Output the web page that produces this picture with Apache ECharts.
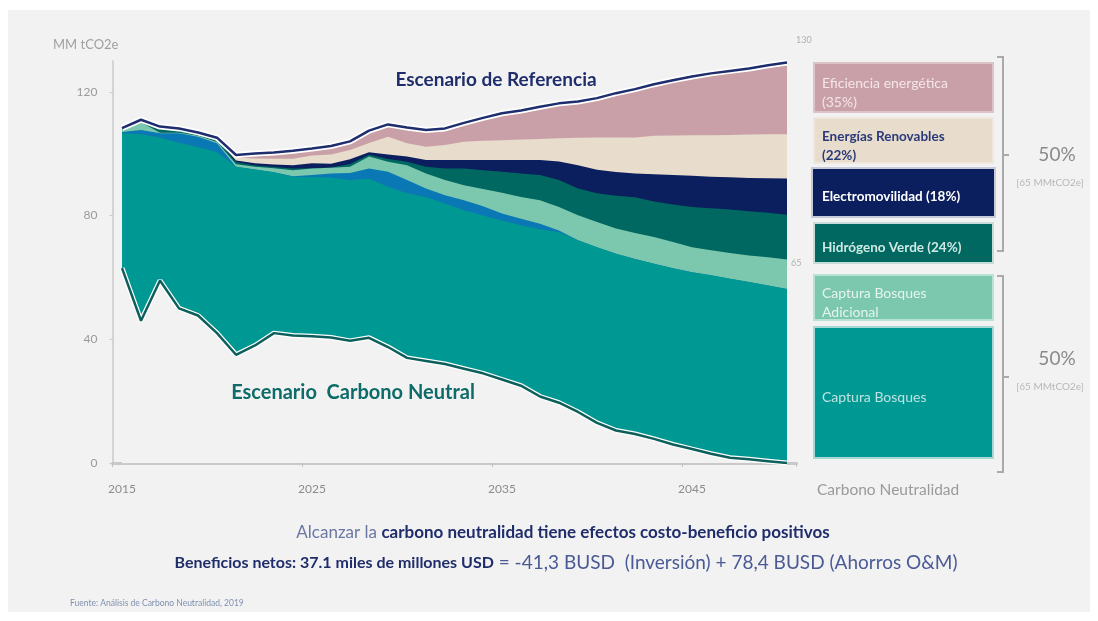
<!DOCTYPE html>
<html><head><meta charset="utf-8">
<script src="https://cdn.jsdelivr.net/npm/echarts@6/dist/echarts.min.js"></script>
<style>html,body{margin:0;padding:0;background:#fff}#c{width:1098px;height:621px}</style>
</head><body><div id="c"></div><script>
// ---- data (MM tCO2e), boundaries of each stacked band ----
const years = ['2015','2016','2017','2018','2019','2020','2021','2022','2023','2024','2025','2026','2027','2028','2029','2030','2031','2032','2033','2034','2035','2036','2037','2038','2039','2040','2041','2042','2043','2044','2045','2046','2047','2048','2049','2050'];
// Escenario de Referencia (top of "Eficiencia energética")
const referencia = [108.3,111.0,108.8,108.2,106.9,105.2,99.6,100.1,100.4,101.0,101.7,102.5,104.0,107.5,109.5,108.5,107.7,108.2,110.0,111.6,113.1,114.0,115.2,116.3,116.9,118.0,119.6,120.9,122.5,123.8,125.0,126.0,126.8,127.6,128.6,129.5];
// top of "Energías Renovables"
const renovables = [108.2,110.9,108.6,108.1,106.8,105.0,98.8,98.5,98.4,98.4,99.4,99.8,101.2,103.5,105.5,103.4,102.3,102.8,103.9,104.2,104.4,104.6,104.8,105.0,105.2,105.3,105.3,105.3,105.8,105.9,106.0,106.0,106.1,106.2,106.3,106.3];
// top of "Electromovilidad"
const electromovilidad = [108.2,110.9,108.5,108.0,106.7,104.9,97.8,96.9,96.5,96.3,96.9,96.8,98.2,100.5,99.8,99.1,98.0,98.0,98.0,98.0,98.0,98.0,98.0,97.5,96.3,94.8,94.1,93.6,93.4,93.1,92.9,92.6,92.4,92.2,92.1,92.0];
// top of "Hidrógeno Verde"
const hidrogeno = [108.0,110.6,108.2,107.8,106.5,104.6,97.3,96.2,95.7,95.2,95.3,95.6,96.7,99.7,98.3,97.4,95.8,95.2,95.2,94.7,94.2,93.6,93.1,91.5,88.8,87.2,86.4,85.9,84.6,83.6,82.8,82.4,82.0,81.4,80.9,80.3];
// top of "Captura Bosques Adicional"
const adicional = [107.8,110.2,106.8,106.8,105.8,103.8,96.6,95.8,95.3,94.7,95.2,95.5,95.8,99.1,97.4,96.3,93.6,91.5,89.8,88.6,87.4,86.0,85.0,82.8,80.1,77.9,75.8,74.4,73.1,71.5,69.8,68.8,67.9,67.1,66.5,65.8];
// top of the thin blue band
const otros = [107.0,107.7,106.6,106.6,105.5,103.4,95.8,94.9,94.0,92.7,93.1,93.6,93.8,95.2,94.2,91.5,88.8,86.6,85.0,83.0,80.7,79.0,77.4,75.2,72.0,69.8,67.7,66.0,64.4,63.0,61.7,60.7,59.6,58.5,57.4,56.3];
// top of "Captura Bosques"
const bosques = [106.6,106.3,105.3,103.6,102.2,100.6,95.8,94.9,94.0,92.6,92.5,92.3,91.5,92.0,89.3,87.2,86.0,83.9,81.7,80.0,78.4,76.9,75.6,74.6,72.0,69.8,67.7,66.0,64.4,63.0,61.7,60.7,59.6,58.5,57.4,56.3];
// Escenario Carbono Neutral (net emissions)
const neutral = [63,46,59,50,47.7,42,35,38,42,41.2,41,40.6,39.5,40.5,37.5,34,33,32,30.5,29,27,25,21.5,19.5,16.5,13,10.5,9.4,7.8,6,4.5,3,1.7,1.2,0.6,0];
const yTicks = [0,40,80,120];

const BG = '#f2f2f2';
function area(name, data, color) {
  return {name, type:'line', data, symbol:'none', silent:true,
    lineStyle:{width:0}, areaStyle:{color, opacity:1}, itemStyle:{color}};
}
function line(name, data, color, width) {
  return {name, type:'line', data, symbol:'none', silent:true,
    lineStyle:{color, width}, itemStyle:{color}};
}
const chart = echarts.init(document.getElementById('c'), null, {renderer:'canvas'});
const F = 'Lato, "Noto Sans", sans-serif';
function txt(x,y,text,size,color,opts){
  return {type:'text', x, y, z:100, style:Object.assign({text, fontSize:size, fill:color, fontFamily:F, textVerticalAlign:'middle', verticalAlign:'middle'}, opts||{})};
}
function box(x,y,w,h,fill,stroke){
  return {type:'rect', z:90, shape:{x,y,width:w,height:h}, style:{fill, stroke, lineWidth:2}};
}
function poly(points){
  return {type:'polyline', z:90, shape:{points}, style:{stroke:'#aaaaaa', lineWidth:2, fill:null}};
}
const C = {textAlign:'center', align:'center'};
chart.setOption({
  animation:false,
  backgroundColor: BG,
  grid:{left:112.5, right:301.5, top:61, bottom:158},
  xAxis:{type:'category', data:years, boundaryGap:true,
    axisLine:{lineStyle:{color:'#c9c9c9', width:3}},
    axisTick:{show:true, interval:9, length:4, lineStyle:{color:'#c0c0c0'}},
    axisLabel:{interval:9, color:'#8c8c8c', fontSize:12, margin:20, fontFamily:F},
    splitLine:{show:false}},
  yAxis:{type:'value', min:0, max:130, interval:40,
    axisLine:{show:true, lineStyle:{color:'#d4d4d4', width:2}},
    axisTick:{show:true, length:3, lineStyle:{color:'#c8c8c8'}},
    axisLabel:{color:'#9a9a9a', fontSize:12, margin:15, fontFamily:F, showMaxLabel:false,
      formatter: v => yTicks.includes(v) ? String(v) : ''},
    splitLine:{show:false}},
  series:[
    area('Eficiencia energética', referencia, '#c9a0a8'),
    area('Energías Renovables', renovables, '#e8dccc'),
    area('Electromovilidad', electromovilidad, '#0b1f5e'),
    area('Hidrógeno Verde', hidrogeno, '#006860'),
    area('Captura Bosques Adicional', adicional, '#7cc8ae'),
    area('Otros', otros, '#0a78b4'),
    area('Captura Bosques', bosques, '#009893'),
    area('Neto', neutral, BG),
    line('refHalo', referencia, '#ffffff', 6),
    line('Escenario de Referencia', referencia, '#1e2d6e', 2.5),
    line('netHalo', neutral, '#ffffff', 5),
    line('Escenario Carbono Neutral', neutral, '#0c5f5b', 2.5)
  ],
  graphic:[
    {type:'rect', z:200, shape:{x:0,y:0,width:1098,height:10}, style:{fill:'#fff'}},
    {type:'rect', z:200, shape:{x:0,y:612,width:1098,height:9}, style:{fill:'#fff'}},
    {type:'rect', z:200, shape:{x:0,y:0,width:8,height:621}, style:{fill:'#fff'}},
    {type:'rect', z:200, shape:{x:1090,y:0,width:8,height:621}, style:{fill:'#fff'}},
    txt(53,45,'MM tCO2e',13,'#a0a0a0'),
    txt(496,80,'Escenario de Referencia',19,'#1f2d6b',Object.assign({fontWeight:'bold'},C)),
    txt(353,393,'Escenario  Carbono Neutral',20,'#0d6b69',Object.assign({fontWeight:'bold'},C)),
    txt(796,40,'130',9,'#b0b0b0'),
    txt(791,263,'65',9,'#b0b0b0'),
    box(814,63,179,49,'#c9a0a8','#dcc3c7'),
    box(814,118,179,45,'#e8dccc','#f0e8de'),
    box(812,168,183,49,'#0b1f5e','#c5c9d8'),
    box(814,223,179,40,'#006860','#c5dcd8'),
    box(814,275,179,45,'#7cc8ae','#b8e2d4'),
    box(814,327,179,131,'#009893','#a8d8d5'),
    txt(822,83,'Eficiencia energética',14,'#f3e6e8'),
    txt(822,102,'(35%)',14,'#f3e6e8'),
    txt(822,137,'Energías Renovables',13.5,'#2a3a7a',{fontWeight:'bold'}),
    txt(822,156,'(22%)',13.5,'#2a3a7a',{fontWeight:'bold'}),
    txt(822,197,'Electromovilidad (18%)',13.5,'#ffffff',{fontWeight:'bold'}),
    txt(822,248,'Hidrógeno Verde (24%)',13.5,'#cfe9e4',{fontWeight:'bold'}),
    txt(822,293,'Captura Bosques',14,'#e6f4ef'),
    txt(822,312,'Adicional',14,'#e6f4ef'),
    txt(822,397,'Captura Bosques',14,'#bfe3e0'),
    poly([[997,57],[1003,57],[1003,251],[997,251]]),
    poly([[1003,155],[1009,155]]),
    poly([[997,276],[1003,276],[1003,472],[997,472]]),
    poly([[1003,377],[1009,377]]),
    txt(1057,155,'50%',19,'#8a8a8a',C),
    txt(1050,183,'[65 MMtCO2e]',10,'#b8b8b8',C),
    txt(1057,359,'50%',19,'#8a8a8a',C),
    txt(1050,387,'[65 MMtCO2e]',10,'#b8b8b8',C),
    txt(817,490,'Carbono Neutralidad',15.5,'#9a9a9a'),
    {type:'text', z:100, x:563, y:533, style:{
      text:'{a|Alcanzar la }{b|carbono neutralidad tiene efectos costo-beneficio positivos}',
      textAlign:'center', align:'center', textVerticalAlign:'middle', verticalAlign:'middle',
      rich:{a:{fontSize:17, fontFamily:F, fill:'#6b78a3', color:'#6b78a3'},
            b:{fontSize:17, fontFamily:F, fontWeight:'bold', fill:'#1f2d6b', color:'#1f2d6b'}}}},
    {type:'text', z:100, x:566, y:563, style:{
      text:'{a|Beneficios netos: 37.1 miles de millones USD}{b| = -41,3 BUSD  (Inversión) + 78,4 BUSD (Ahorros O&M)}',
      textAlign:'center', align:'center', textVerticalAlign:'middle', verticalAlign:'middle',
      rich:{a:{fontSize:16, fontFamily:F, fontWeight:'bold', fill:'#1f2d6b', color:'#1f2d6b'},
            b:{fontSize:19, fontFamily:F, fill:'#4a5a95', color:'#4a5a95'}}}},
    txt(70,603,'Fuente: Análisis de Carbono Neutralidad, 2019',8.5,'#8090b0')
  ]
});
</script></body></html>
